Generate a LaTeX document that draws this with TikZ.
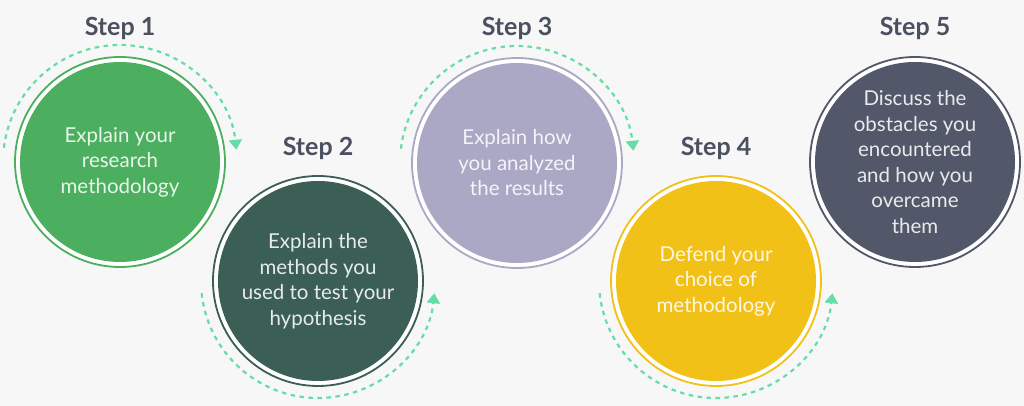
\documentclass[tikz,border=0pt]{standalone}
\usepackage{fontspec}
\setmainfont{Lato}
\usetikzlibrary{arrows.meta}
\definecolor{bg}{HTML}{F7F7F7}
\definecolor{cA}{HTML}{4CAF5F}
\definecolor{cB}{HTML}{3B5E55}
\definecolor{cC}{HTML}{ABA8C6}
\definecolor{cD}{HTML}{F2C118}
\definecolor{cE}{HTML}{525769}
\definecolor{mint}{HTML}{66DDA8}
\definecolor{steptxt}{HTML}{4A5060}
\tikzset{
  ring/.style={circle, draw=#1, line width=1.8pt, fill=white, minimum size=210pt, inner sep=0pt},
  core/.style={circle, fill=#1, minimum size=200pt, inner sep=0pt, text=white, text opacity=0.88,
     align=center, font=\fontsize{20.5pt}{25.5pt}\selectfont},
  steplabel/.style={text=steptxt, font=\fontsize{25pt}{28pt}\selectfont\bfseries},
  flow/.style={draw=mint, line width=2.2pt, dash pattern=on 4.5pt off 4.5pt,
     -{Triangle[width=13pt,length=10pt,fill=mint]}},
}
\begin{document}
\begin{tikzpicture}[x=1pt,y=1pt]
\fill[bg] (0,0) rectangle (1024,406);
\useasboundingbox (0,0) rectangle (1024,406);
% circles
\node[ring=cA] (r1) at (120,244) {};
\node[core=cA] (c1) at (120,244) {Explain your\\research\\methodology};
\node[ring=cB] (r2) at (318,125) {};
\node[core=cB] (c2) at (318,125) {Explain the\\methods you\\used to test your\\hypothesis};
\node[ring=cC] (r3) at (517,243) {};
\node[core=cC] (c3) at (517,243) {Explain how\\you analyzed\\the results};
\node[ring=cD] (r4) at (716,125) {};
\node[core=cD] (c4) at (716,125) {Defend your\\choice of\\methodology};
\node[ring=cE] (r5) at (915,244) {};
\node[core=cE] (c5) at (915,244) {Discuss the\\obstacles you\\encountered\\and how you\\overcame\\them};
% step labels
\node[steplabel] (s1) at (120,378) {Step 1};
\node[steplabel] (s2) at (318,258) {Step 2};
\node[steplabel] (s3) at (517,378) {Step 3};
\node[steplabel] (s4) at (716,258) {Step 4};
\node[steplabel] (s5) at (915,378) {Step 5};
% dashed arcs
\draw[flow] (c1.center) ++(173:117) arc[start angle=173, end angle=6, radius=117];
\draw[flow] (c2.center) ++(186:117) arc[start angle=186, end angle=354, radius=117];
\draw[flow] (c3.center) ++(173:117) arc[start angle=173, end angle=6, radius=117];
\draw[flow] (c4.center) ++(186:117) arc[start angle=186, end angle=354, radius=117];
\end{tikzpicture}
\end{document}
